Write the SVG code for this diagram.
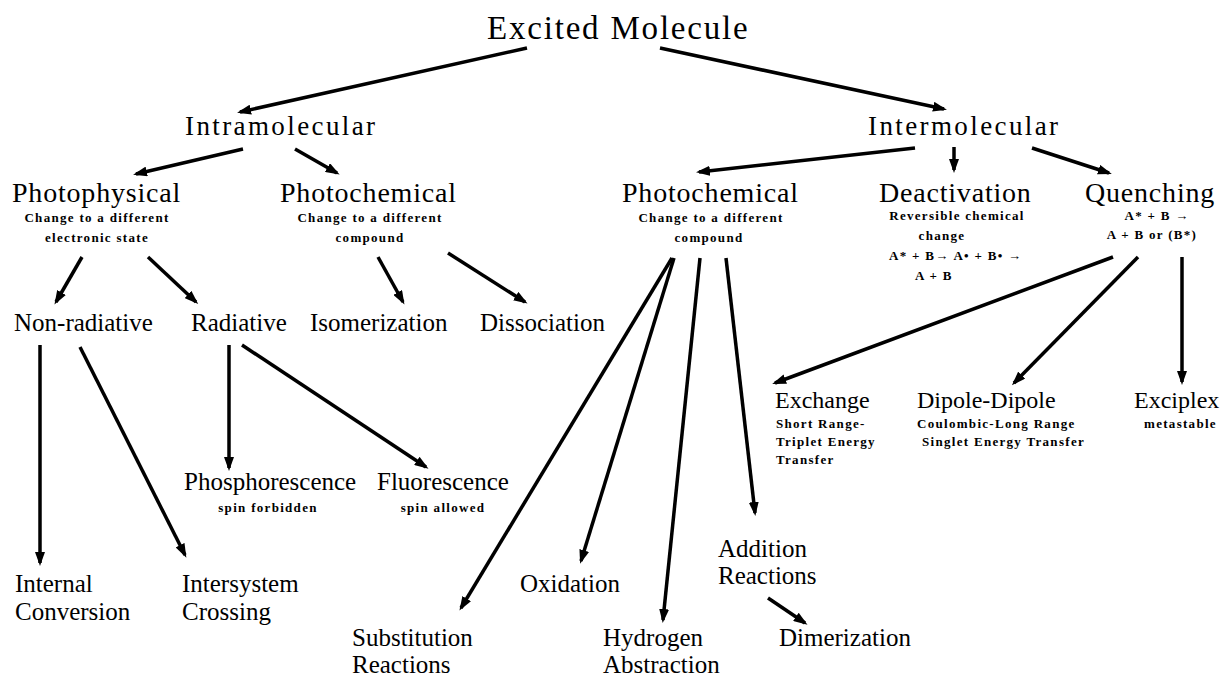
<svg xmlns="http://www.w3.org/2000/svg" width="1225" height="678" viewBox="0 0 1225 678">
<defs>
<style>
text{font-family:"Liberation Serif","Times New Roman",serif;fill:#000}
.t1{font-size:33px;letter-spacing:1.8px}
.t2{font-size:27px;letter-spacing:2.4px}
.t3{font-size:28px;letter-spacing:0.8px}
.t4{font-size:25px}
.t5{font-size:24px}
.s{font-size:13px;font-weight:bold;letter-spacing:1.3px}
.m{text-anchor:middle}
#connectors line{stroke:#000;stroke-width:3.5;marker-end:url(#ah)}
</style>
<marker id="ah" viewBox="0 0 14 10" refX="11" refY="5" markerWidth="14" markerHeight="10" markerUnits="userSpaceOnUse" orient="auto">
<path d="M0,0 L14,5 L0,10 z" fill="#000"/>
</marker>
</defs>
<rect width="1225" height="678" fill="#fff"/>

<g id="connectors">
<line x1="527" y1="48" x2="240" y2="112"/>
<line x1="660" y1="48" x2="944" y2="109"/>
<line x1="243" y1="149" x2="136" y2="174"/>
<line x1="295" y1="149" x2="337" y2="173"/>
<line x1="915" y1="148" x2="699" y2="172"/>
<line x1="954" y1="147" x2="954" y2="170"/>
<line x1="1032" y1="148" x2="1109" y2="173"/>
<line x1="82" y1="257" x2="56" y2="302"/>
<line x1="148" y1="257" x2="196" y2="302"/>
<line x1="378" y1="257" x2="403" y2="302"/>
<line x1="448" y1="253" x2="525" y2="302"/>
<line x1="40" y1="345" x2="40" y2="563"/>
<line x1="80" y1="347" x2="185" y2="555"/>
<line x1="229" y1="345" x2="229" y2="468"/>
<line x1="242" y1="345" x2="426" y2="467"/>
<line x1="672" y1="258" x2="461" y2="608"/>
<line x1="674" y1="258" x2="581" y2="561"/>
<line x1="700" y1="258" x2="663" y2="620"/>
<line x1="726" y1="258" x2="755" y2="513"/>
<line x1="768" y1="598" x2="805" y2="623"/>
<line x1="1113" y1="257" x2="775" y2="383"/>
<line x1="1138" y1="257" x2="1014" y2="383"/>
<line x1="1182" y1="257" x2="1182" y2="382"/>
</g>

<g id="n-excited"><text class="t1" x="487" y="39">Excited Molecule</text></g>
<g id="n-intra"><text class="t2" x="185" y="135">Intramolecular</text></g>
<g id="n-inter"><text class="t2" x="868" y="135">Intermolecular</text></g>

<g id="n-photophysical">
<text class="t3" x="12" y="202">Photophysical</text>
<text class="s m" x="97" y="222">Change to a different</text>
<text class="s m" x="97" y="242">electronic state</text>
</g>
<g id="n-photochem-l">
<text class="t3" x="280" y="202">Photochemical</text>
<text class="s m" x="370" y="222">Change to a different</text>
<text class="s m" x="370" y="242">compound</text>
</g>
<g id="n-photochem-r">
<text class="t3" x="622" y="202">Photochemical</text>
<text class="s m" x="711" y="222">Change to a different</text>
<text class="s m" x="709" y="242">compound</text>
</g>
<g id="n-deactivation">
<text class="t3" x="879" y="202">Deactivation</text>
<text class="s m" x="957" y="220">Reversible chemical</text>
<text class="s m" x="942" y="240">change</text>
<text class="s" x="889" y="260">A* + B→ A• + B• →</text>
<text class="s" x="915" y="280">A + B</text>
</g>
<g id="n-quenching">
<text class="t3" x="1085" y="202">Quenching</text>
<text class="s m" x="1157" y="220">A* + B →</text>
<text class="s m" x="1152" y="239">A +  B or (B*)</text>
</g>

<g id="n-nonrad"><text class="t4" x="14" y="331">Non-radiative</text></g>
<g id="n-rad"><text class="t4" x="191" y="331">Radiative</text></g>
<g id="n-isomer"><text class="t4" x="310" y="331">Isomerization</text></g>
<g id="n-dissoc"><text class="t4" x="480" y="331">Dissociation</text></g>

<g id="n-exchange">
<text class="t5" x="775" y="408">Exchange</text>
<text class="s" x="776" y="428">Short Range-</text>
<text class="s" x="776" y="446">Triplet Energy</text>
<text class="s" x="776" y="464">Transfer</text>
</g>
<g id="n-dipole">
<text class="t5" x="917" y="408">Dipole-Dipole</text>
<text class="s" x="917" y="428">Coulombic-Long Range</text>
<text class="s" x="922" y="446">Singlet Energy Transfer</text>
</g>
<g id="n-exciplex">
<text class="t5" x="1134" y="408">Exciplex</text>
<text class="s" x="1144" y="428">metastable</text>
</g>

<g id="n-phos">
<text class="t4" x="184" y="490">Phosphorescence</text>
<text class="s m" x="268" y="512">spin forbidden</text>
</g>
<g id="n-fluor">
<text class="t4" x="377" y="490">Fluorescence</text>
<text class="s m" x="443" y="512">spin allowed</text>
</g>

<g id="n-addition">
<text class="t4" x="718" y="557">Addition</text>
<text class="t4" x="718" y="584">Reactions</text>
</g>
<g id="n-internal">
<text class="t4" x="15" y="592">Internal</text>
<text class="t4" x="15" y="620">Conversion</text>
</g>
<g id="n-intersystem">
<text class="t4" x="182" y="592">Intersystem</text>
<text class="t4" x="182" y="620">Crossing</text>
</g>
<g id="n-oxidation"><text class="t4" x="520" y="592">Oxidation</text></g>
<g id="n-substitution">
<text class="t4" x="352" y="646">Substitution</text>
<text class="t4" x="352" y="673">Reactions</text>
</g>
<g id="n-hydrogen">
<text class="t4" x="603" y="646">Hydrogen</text>
<text class="t4" x="603" y="673">Abstraction</text>
</g>
<g id="n-dimer"><text class="t4" x="779" y="646">Dimerization</text></g>
</svg>
